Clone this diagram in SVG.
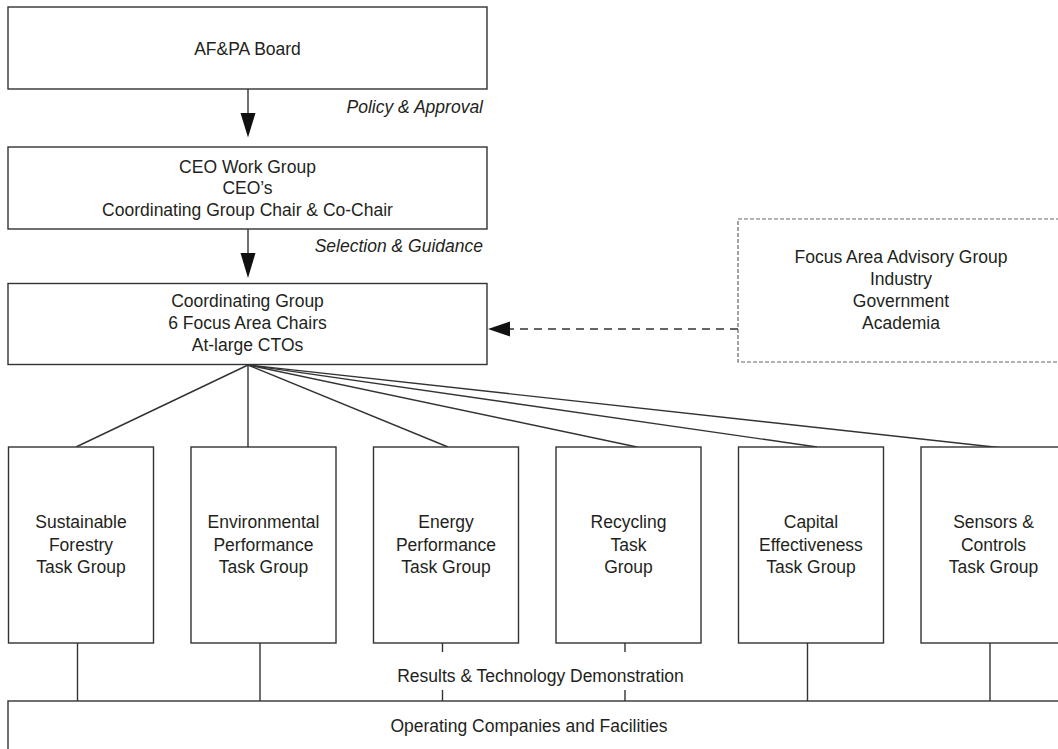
<svg xmlns="http://www.w3.org/2000/svg" width="1058" height="749" viewBox="0 0 1058 749">
<style>
  .box { fill: #ffffff; stroke: #333333; stroke-width: 1.4; }
  .dbox { fill: #ffffff; stroke: #666666; stroke-width: 1.2; stroke-dasharray: 4 2; }
  .t { font-family: "Liberation Sans", Arial, sans-serif; font-size: 17.5px; fill: #231f20; text-anchor: middle; }
  .lbl { font-family: "Liberation Sans", Arial, sans-serif; font-size: 17.5px; fill: #231f20; font-style: italic; text-anchor: end; }
  .ln { stroke: #333333; stroke-width: 1.4; fill: none; }
  .dash { stroke: #333333; stroke-width: 1.4; fill: none; stroke-dasharray: 8 6; }
  .head { fill: #111111; }
</style>
<rect width="1058" height="749" fill="#ffffff"/>

<g id="connectors">
  <line class="ln" x1="248" y1="89" x2="248" y2="116"/>
  <polygon class="head" points="240.5,113 255.5,113 248,137.5"/>
  <line class="ln" x1="248" y1="229" x2="248" y2="256"/>
  <polygon class="head" points="240.5,253 255.5,253 248,278"/>
  <line class="dash" x1="738" y1="329" x2="506" y2="329"/>
  <polygon class="head" points="488,329 510,321.5 510,336.5"/>
  <line class="ln" x1="248" y1="365" x2="76" y2="447"/>
  <line class="ln" x1="248" y1="365" x2="248" y2="447"/>
  <line class="ln" x1="248" y1="365" x2="448" y2="447"/>
  <line class="ln" x1="248" y1="365" x2="637" y2="447"/>
  <line class="ln" x1="248" y1="365" x2="817" y2="447"/>
  <line class="ln" x1="248" y1="365" x2="1003" y2="448"/>
  <line class="ln" x1="77.5" y1="643" x2="77.5" y2="701"/>
  <line class="ln" x1="260" y1="643" x2="260" y2="701"/>
  <line class="ln" x1="442.5" y1="643" x2="442.5" y2="652"/>
  <line class="ln" x1="442.5" y1="690" x2="442.5" y2="701"/>
  <line class="ln" x1="625" y1="643" x2="625" y2="652"/>
  <line class="ln" x1="625" y1="690" x2="625" y2="701"/>
  <line class="ln" x1="807.5" y1="643" x2="807.5" y2="701"/>
  <line class="ln" x1="990" y1="643" x2="990" y2="701"/>
  <text class="lbl" x="483" y="113">Policy &amp; Approval</text>
  <text class="lbl" x="483" y="252">Selection &amp; Guidance</text>
  <text class="t" x="540.5" y="682">Results &amp; Technology Demonstration</text>
</g>

<g id="board">
  <rect class="box" x="8" y="7" width="479" height="82"/>
  <text class="t" x="247.5" y="54.5">AF&amp;PA Board</text>
</g>

<g id="ceo">
  <rect class="box" x="8" y="147" width="479" height="82"/>
  <text class="t" x="247.5" y="172.5">CEO Work Group</text>
  <text class="t" x="247.5" y="194">CEO’s</text>
  <text class="t" x="247.5" y="215.5">Coordinating Group Chair &amp; Co-Chair</text>
</g>

<g id="coord">
  <rect class="box" x="8" y="283.5" width="479" height="81"/>
  <text class="t" x="247.5" y="306.5">Coordinating Group</text>
  <text class="t" x="247.5" y="328.5">6 Focus Area Chairs</text>
  <text class="t" x="247.5" y="350.5">At-large CTOs</text>
</g>

<g id="advisory">
  <rect class="dbox" x="738" y="219" width="340" height="143"/>
  <text class="t" x="901" y="263">Focus Area Advisory Group</text>
  <text class="t" x="901" y="285">Industry</text>
  <text class="t" x="901" y="307">Government</text>
  <text class="t" x="901" y="329">Academia</text>
</g>

<g id="tg1">
  <rect class="box" x="8.5" y="447" width="145" height="196"/>
  <text class="t" x="81" y="528">Sustainable</text>
  <text class="t" x="81" y="550.5">Forestry</text>
  <text class="t" x="81" y="573">Task Group</text>
</g>
<g id="tg2">
  <rect class="box" x="191" y="447" width="145" height="196"/>
  <text class="t" x="263.5" y="528">Environmental</text>
  <text class="t" x="263.5" y="550.5">Performance</text>
  <text class="t" x="263.5" y="573">Task Group</text>
</g>
<g id="tg3">
  <rect class="box" x="373.5" y="447" width="145" height="196"/>
  <text class="t" x="446" y="528">Energy</text>
  <text class="t" x="446" y="550.5">Performance</text>
  <text class="t" x="446" y="573">Task Group</text>
</g>
<g id="tg4">
  <rect class="box" x="556" y="447" width="145" height="196"/>
  <text class="t" x="628.5" y="528">Recycling</text>
  <text class="t" x="628.5" y="550.5">Task</text>
  <text class="t" x="628.5" y="573">Group</text>
</g>
<g id="tg5">
  <rect class="box" x="738.5" y="447" width="145" height="196"/>
  <text class="t" x="811" y="528">Capital</text>
  <text class="t" x="811" y="550.5">Effectiveness</text>
  <text class="t" x="811" y="573">Task Group</text>
</g>
<g id="tg6">
  <rect class="box" x="921" y="447" width="145" height="196"/>
  <text class="t" x="993.5" y="528">Sensors &amp;</text>
  <text class="t" x="993.5" y="550.5">Controls</text>
  <text class="t" x="993.5" y="573">Task Group</text>
</g>

<g id="operating">
  <rect class="box" x="8" y="701" width="1100" height="100"/>
  <text class="t" x="529" y="732">Operating Companies and Facilities</text>
</g>
</svg>
